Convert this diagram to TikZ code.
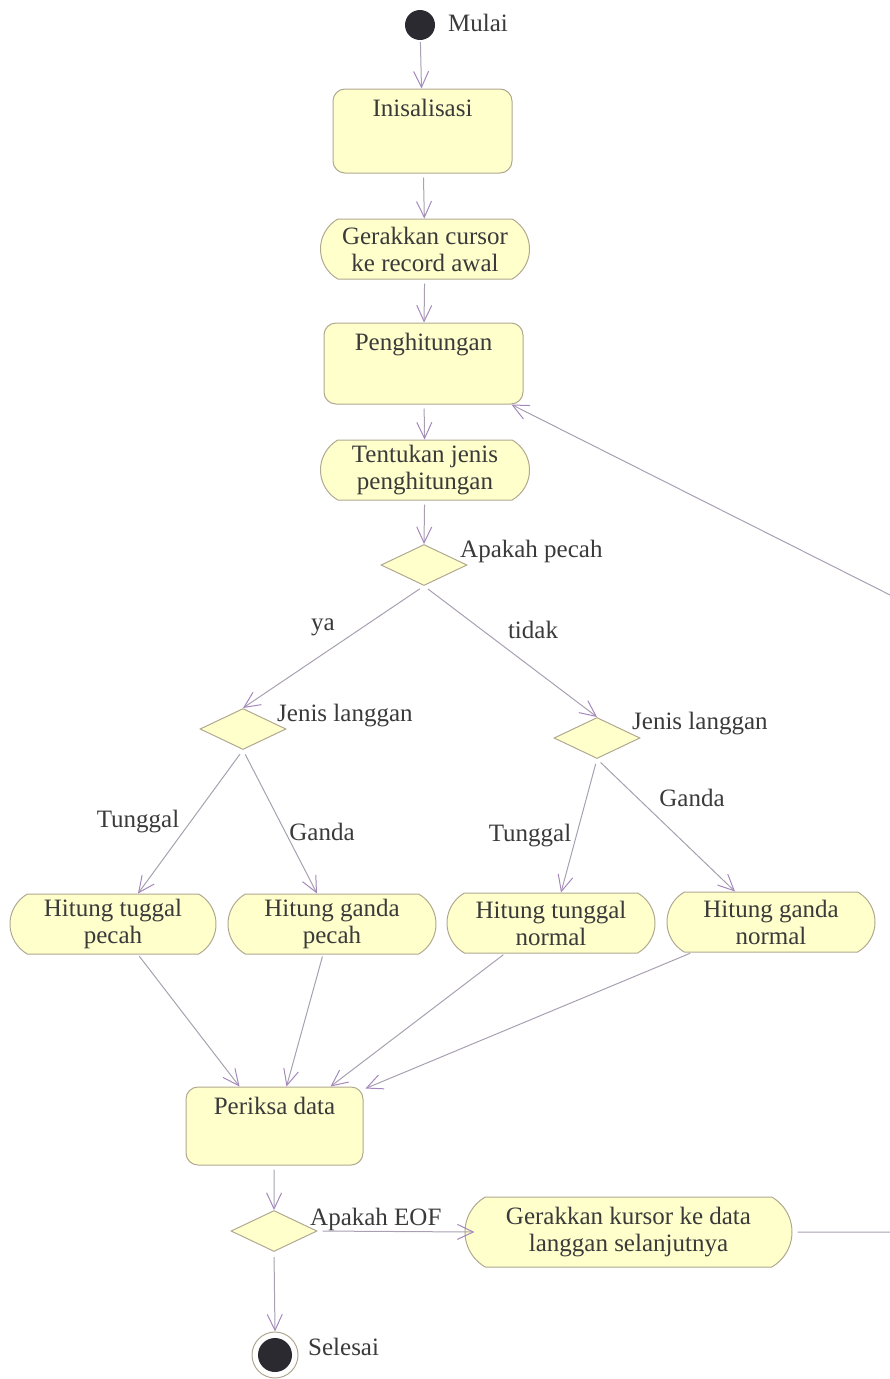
\documentclass[tikz,border=0pt]{standalone}
\usepackage{fontspec}
\setmainfont{Liberation Serif}
\usetikzlibrary{shapes.geometric,shapes.misc,arrows.meta,calc}
\definecolor{boxfill}{HTML}{FFFFCC}
\definecolor{boxline}{HTML}{B0A890}
\definecolor{flowline}{HTML}{A8A0B0}
\definecolor{tipline}{HTML}{A488BC}
\definecolor{txt}{HTML}{3A3A3A}
\definecolor{dot}{HTML}{2A2A30}
\tikzset{
  every node/.style={font=\fontsize{25}{27}\selectfont, text=txt},
  actbox/.style={draw=boxline, fill=boxfill, line width=1pt, rounded corners=12pt, inner sep=0pt},
  stadium/.style={draw=boxline, fill=boxfill, line width=1pt, rounded rectangle, rounded rectangle arc length=120, minimum width=209pt, minimum height=60pt, align=center, inner sep=0pt},
  decision/.style={draw=boxline, fill=boxfill, line width=1pt, diamond, aspect=2.1, minimum width=86pt, minimum height=41pt, inner sep=0pt},
  flow/.style={draw=flowline, line width=1pt, -{Straight Barb[length=16pt,width=15pt,line width=1pt,color=tipline]}},
  lbl/.style={inner sep=0pt}
}
\begin{document}
\begin{tikzpicture}[x=1pt,y=-1pt]
\useasboundingbox (0,0) rectangle (890,1379);
\clip (0,0) rectangle (890,1379);

% start
\node[circle, fill=dot, minimum size=30pt, inner sep=0pt] (start) at (420,25) {};
\node[lbl, anchor=west] (mulai) at (448,23) {Mulai};

\node[actbox, minimum width=179pt, minimum height=84pt] (init) at (422.5,131) {};
\node[lbl, anchor=north] (initt) at ($(init.north)+(0,10)$) {Inisalisasi};

\node[stadium] (gc) at (425,249) {Gerakkan cursor\\ke record awal};

\node[actbox, minimum width=199pt, minimum height=81pt] (peng) at (423.5,363.5) {};
\node[lbl, anchor=north] (pengt) at ($(peng.north)+(0,10)$) {Penghitungan};

\node[stadium] (tj) at (425,470) {Tentukan jenis\\penghitungan};

\node[decision] (d1) at (424,565) {};
\node[lbl, anchor=west] (d1t) at (460,551) {Apakah pecah};

\node[decision] (dl) at (243,729) {};
\node[lbl, anchor=west] (dlt) at (277,716) {Jenis langgan};

\node[decision] (dr) at (597,738) {};
\node[lbl, anchor=west] (drt) at (632,724) {Jenis langgan};

\node[stadium, minimum width=206pt] (htp) at (113,924) {Hitung tuggal\\pecah};
\node[stadium, minimum width=208pt] (hgp) at (332,924) {Hitung ganda\\pecah};
\node[stadium, minimum width=208pt] (htn) at (551,923) {Hitung tunggal\\normal};
\node[stadium, minimum width=208pt] (hgn) at (771,922) {Hitung ganda\\normal};

\node[actbox, minimum width=177pt, minimum height=78pt] (pd) at (274.5,1126) {};
\node[lbl, anchor=north] (pdt) at ($(pd.north)+(0,10)$) {Periksa data};

\node[decision] (d2) at (274,1231) {};
\node[lbl, anchor=west] (d2t) at (310,1219) {Apakah EOF};

\node[stadium, minimum width=327pt, minimum height=70pt] (gk) at (628.5,1232) {Gerakkan kursor ke data\\langgan selanjutnya};

\node[circle, draw=boxline, line width=1pt, fill=white, minimum size=46pt, inner sep=0pt] (endo) at (275,1355) {};
\node[circle, fill=dot, minimum size=34pt, inner sep=0pt] (endi) at (275,1355) {};
\node[lbl, anchor=west] (sel) at (308,1347) {Selesai};

% edge labels
\node[lbl] (ya) at (323,627) {ya};
\node[lbl] (tidak) at (533,630) {tidak};
\node[lbl] (tl) at (138,822) {Tunggal};
\node[lbl] (gl) at (322,832) {Ganda};
\node[lbl] (tr) at (530,836) {Tunggal};
\node[lbl] (gr) at (692,798) {Ganda};

% connectors
\draw[flow, shorten <=2pt] (start) -- (init);
\draw[flow, shorten <=4pt] (init) -- (gc);
\draw[flow, shorten <=4pt] (gc) -- (peng);
\draw[flow, shorten <=4pt] (peng) -- (tj);
\draw[flow, shorten <=4pt] (tj) -- (d1.north);
\draw[flow, shorten <=5pt] (d1.south) -- (dl.north);
\draw[flow, shorten <=5pt] (d1.south) -- (dr.north);
\draw[flow, shorten <=5pt] (dl.south) -- ($(htp.north)+(25,0)$);
\draw[flow, shorten <=5pt] (dl.south) -- ($(hgp.north)+(-15,0)$);
\draw[flow, shorten <=5pt] (dr.south) -- ($(htn.north)+(10,0)$);
\draw[flow, shorten <=5pt] (dr.south) -- ($(hgn.north)+(-36,0)$);
\draw[flow, shorten <=2pt] ($(htp.south)+(25,0)$) -- ($(pd.north west)+(54,0)$);
\draw[flow, shorten <=2pt] ($(hgp.south)+(-9,0)$) -- ($(pd.north west)+(101,0)$);
\draw[flow, shorten <=2pt] ($(htn.south)+(-46,0)$) -- ($(pd.north west)+(145,0)$);
\draw[flow, shorten <=2pt] ($(hgn.south)+(-79,0)$) -- ($(pd.north east)+(2,2)$);
\draw[flow, shorten <=4pt] (pd) -- (d2.north);
\draw[flow, shorten <=5pt] (d2.east) -- ($(gk.west)+(10,0)$);
\draw[flow, shorten <=5pt] (d2.south) -- (endo.north);
\draw[flow, shorten <=5pt] (gk.east) -- (905,1232) -- (905,602.5) -- (peng.-25.6);
\end{tikzpicture}
\end{document}
